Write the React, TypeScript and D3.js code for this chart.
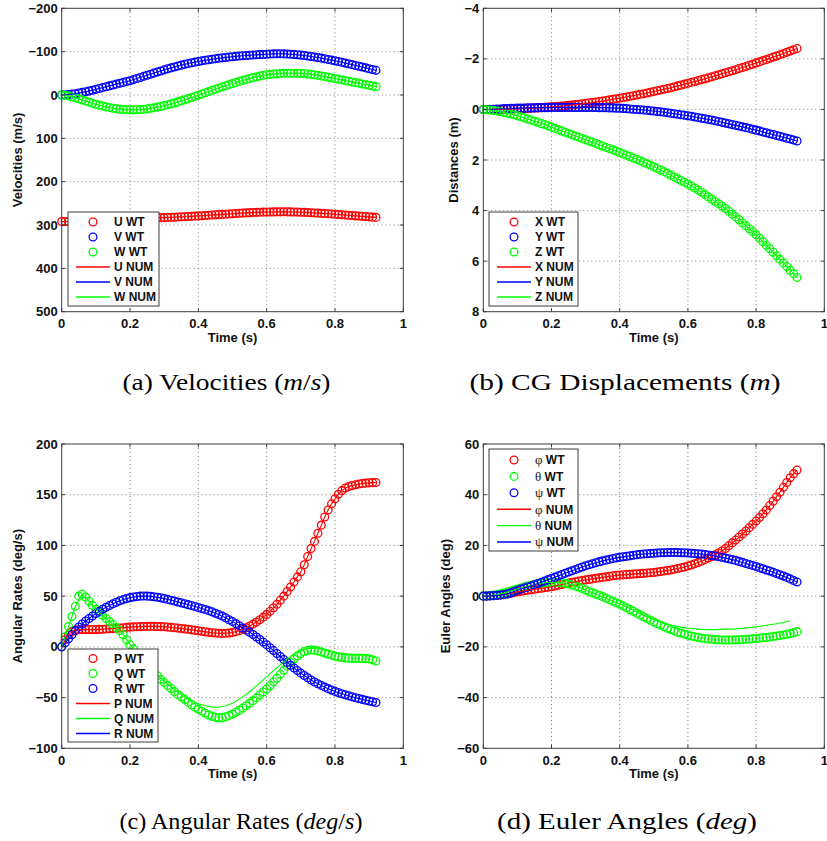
import React from 'react';
import * as d3 from 'd3';

// ---------- DATA ----------
const TIME: number[] = d3.range(93).map((i) => i / 100); // sampling instants 0 .. 0.92 s
const NUM_TIME: number[] = d3.range(46).map((i) => i / 50); // 0 .. 0.90 s

const X_TICKS = [0, 0.2, 0.4, 0.6, 0.8, 1];
const A_TICKS = [-200, -100, 0, 100, 200, 300, 400, 500];
const B_TICKS = [-4, -2, 0, 2, 4, 6, 8];
const C_TICKS = [-100, -50, 0, 50, 100, 150, 200];
const D_TICKS = [-60, -40, -20, 0, 20, 40, 60];

// (a) velocities
const U_WT = [
  292, 292, 292, 292, 291.5, 291, 291, 290.5, 290, 290,
  289.5, 289, 289, 288.5, 288, 288, 287.5, 287, 287, 286.5,
  286, 286, 285.5, 285, 285, 284.5, 284, 284, 283.5, 283,
  283, 282.5, 282, 282, 281.5, 281, 281, 280.5, 280, 279.5,
  279, 278.5, 278, 277.5, 277, 276.5, 276, 275.5, 275, 274.5,
  274, 273.5, 273, 272.5, 272, 271.5, 271, 270.8, 270.5, 270.3,
  270, 270, 269.8, 269.7, 269.6, 269.5, 269.6, 269.8, 270, 270.2,
  270.5, 270.9, 271.3, 271.7, 272.2, 272.6, 273.1, 273.6, 274.1, 274.6,
  275.2, 275.8, 276.4, 277, 277.6, 278.2, 278.8, 279.4, 280, 280.6,
  281.2, 281.8, 282.4,
];
const V_WT = [
  0, -0.3, -1, -2, -3, -4.5, -6, -7.5, -9, -11,
  -13, -15, -17, -19, -21, -23, -25, -27, -29, -31,
  -33, -35.5, -38, -40.5, -43, -45.5, -48, -50.5, -53, -55.5,
  -58, -60.3, -62.5, -64.7, -66.8, -68.8, -70.7, -72.5, -74.2, -75.8,
  -77.3, -78.7, -80, -81.3, -82.5, -83.6, -84.7, -85.7, -86.6, -87.5,
  -88.3, -89.1, -89.8, -90.5, -91.1, -91.7, -92.2, -92.7, -93.1, -93.5,
  -94, -94.5, -94.8, -95, -95, -94.8, -94.5, -94, -93.4, -92.7,
  -92, -91, -90, -88.9, -87.7, -86.4, -85, -83.5, -82, -80.4,
  -78.8, -77.1, -75.4, -73.6, -71.8, -70, -68.2, -66.3, -64.4, -62.5,
  -60.6, -58.7, -56.8,
];
const W_WT = [
  0, 1, 2.5, 4.5, 6.5, 9, 11.5, 14, 16.5, 19,
  21.5, 23.5, 25.5, 27.5, 29, 30.5, 31.7, 32.7, 33.5, 34,
  34.3, 34.3, 34.1, 33.6, 32.9, 32, 30.9, 29.6, 28.1, 26.4,
  24.6, 22.6, 20.5, 18.3, 16, 13.6, 11.1, 8.5, 5.9, 3.2,
  0.5, -2.2, -5, -7.8, -10.6, -13.4, -16.1, -18.8, -21.4, -24,
  -26.5, -29, -31.4, -33.7, -35.9, -38, -40, -41.9, -43.6, -45.2,
  -46.6, -47.6, -48.4, -49.1, -49.6, -50, -50.2, -50.3, -50.3, -50.2,
  -49.9, -49.3, -48.5, -47.5, -46.4, -45.2, -43.9, -42.5, -41, -39.5,
  -38, -36.4, -34.8, -33.2, -31.6, -30, -28.5, -27, -25.5, -24,
  -22.5, -20.8, -19.2,
];
const U_NUM = U_WT;
const V_NUM = V_WT;
const W_NUM = W_WT;

// (b) CG displacements
const X_WT = [
  0, 0, 0, 0, 0, -0.01, -0.01, -0.01, -0.02, -0.02,
  -0.03, -0.03, -0.04, -0.04, -0.05, -0.06, -0.06, -0.07, -0.08, -0.09,
  -0.1, -0.11, -0.12, -0.13, -0.14, -0.16, -0.17, -0.19, -0.2, -0.22,
  -0.24, -0.26, -0.27, -0.29, -0.31, -0.33, -0.35, -0.38, -0.4, -0.42,
  -0.44, -0.47, -0.49, -0.52, -0.54, -0.57, -0.6, -0.62, -0.65, -0.68,
  -0.71, -0.74, -0.77, -0.8, -0.83, -0.86, -0.9, -0.93, -0.96, -1,
  -1.03, -1.07, -1.1, -1.14, -1.18, -1.21, -1.25, -1.29, -1.33, -1.37,
  -1.41, -1.45, -1.49, -1.53, -1.57, -1.62, -1.66, -1.7, -1.75, -1.79,
  -1.84, -1.88, -1.93, -1.97, -2.02, -2.07, -2.11, -2.16, -2.21, -2.26,
  -2.31, -2.36, -2.41,
];
const Y_WT = [
  0, 0, -0.01, -0.01, -0.02, -0.02, -0.03, -0.03, -0.04, -0.04,
  -0.05, -0.05, -0.05, -0.06, -0.06, -0.06, -0.07, -0.07, -0.07, -0.07,
  -0.08, -0.08, -0.08, -0.08, -0.08, -0.08, -0.08, -0.08, -0.08, -0.08,
  -0.08, -0.08, -0.08, -0.08, -0.07, -0.07, -0.07, -0.06, -0.06, -0.05,
  -0.05, -0.04, -0.03, -0.02, -0.01, 0, 0.01, 0.02, 0.03, 0.05,
  0.06, 0.08, 0.09, 0.11, 0.13, 0.15, 0.17, 0.19, 0.21, 0.23,
  0.25, 0.27, 0.3, 0.32, 0.35, 0.37, 0.4, 0.42, 0.45, 0.48,
  0.51, 0.54, 0.57, 0.6, 0.63, 0.66, 0.69, 0.72, 0.75, 0.79,
  0.82, 0.85, 0.89, 0.92, 0.96, 0.99, 1.03, 1.06, 1.1, 1.14,
  1.17, 1.21, 1.25,
];
const Z_WT = [
  0, 0.01, 0.02, 0.04, 0.06, 0.09, 0.12, 0.15, 0.18, 0.21,
  0.25, 0.29, 0.33, 0.38, 0.42, 0.47, 0.51, 0.56, 0.6, 0.65,
  0.7, 0.75, 0.8, 0.85, 0.9, 0.95, 1, 1.05, 1.1, 1.15,
  1.2, 1.25, 1.3, 1.35, 1.4, 1.45, 1.5, 1.55, 1.6, 1.65,
  1.7, 1.75, 1.81, 1.86, 1.92, 1.97, 2.03, 2.09, 2.15, 2.21,
  2.27, 2.33, 2.4, 2.46, 2.53, 2.6, 2.67, 2.74, 2.81, 2.88,
  2.95, 3.03, 3.11, 3.19, 3.28, 3.37, 3.46, 3.55, 3.64, 3.73,
  3.82, 3.92, 4.03, 4.14, 4.25, 4.36, 4.48, 4.6, 4.72, 4.84,
  4.96, 5.09, 5.23, 5.37, 5.51, 5.65, 5.79, 5.93, 6.07, 6.21,
  6.36, 6.5, 6.65,
];
const X_NUM = X_WT;
const Y_NUM = Y_WT;
const Z_NUM = Z_WT;

// (c) angular rates
const P_WT = [
  0, 7, 12, 15, 16.5, 17, 17, 17, 17, 17,
  17, 17.2, 17.4, 17.6, 17.8, 18, 18.3, 18.6, 18.9, 19.2,
  19.5, 19.7, 19.9, 20, 20.1, 20.2, 20.2, 20.2, 20.1, 20,
  19.8, 19.5, 19.2, 18.9, 18.5, 18.1, 17.7, 17.3, 16.8, 16.3,
  15.8, 15.3, 14.8, 14.3, 13.9, 13.6, 13.4, 13.3, 13.4, 13.7,
  14.2, 15, 16, 17.3, 18.8, 20.5, 22.4, 24.5, 26.8, 29.3,
  32, 35, 38.5, 42, 46, 50, 54.5, 59, 64, 69,
  74, 81, 89, 97, 104, 112, 120, 128, 135, 141,
  146, 150.5, 154, 156.5, 158, 159, 159.8, 160.5, 161, 161.4,
  161.7, 161.9, 162,
];
const Q_WT = [
  0, 10, 20, 30, 40, 50, 52, 49, 45, 41,
  37, 34, 31, 28, 25, 22, 19, 16, 12, 7,
  2, -2, -6, -10, -14, -18, -21.5, -25, -28.5, -32,
  -35, -38, -41, -44, -47, -49.5, -52, -54.5, -57, -59.5,
  -61.5, -63.5, -65.5, -67.2, -68.5, -69.5, -70, -69.8, -69, -67.8,
  -66.3, -64.5, -62.5, -60.3, -58, -55.5, -53, -50.3, -47.5, -44.5,
  -41.5, -38, -34.5, -31, -27, -23, -19, -15.5, -12, -9,
  -6.5, -4.5, -3.3, -3, -3.3, -4, -5, -6, -7.2, -8.3,
  -9.3, -10, -10.6, -11, -11.2, -11.3, -11.3, -11.3, -11.4, -11.6,
  -12, -12.8, -14,
];
const R_WT = [
  0, 4, 8, 12, 16, 19.5, 22.5, 25.5, 28, 30.5,
  32.8, 35, 37, 39, 40.8, 42.5, 44, 45.4, 46.6, 47.6,
  48.5, 49.2, 49.7, 50, 50.1, 50, 49.8, 49.4, 48.9, 48.3,
  47.6, 46.8, 46, 45.2, 44.3, 43.4, 42.5, 41.6, 40.7, 39.8,
  38.8, 37.8, 36.8, 35.7, 34.5, 33.2, 31.8, 30.3, 28.6, 26.8,
  24.9, 22.9, 20.8, 18.6, 16.5, 14.5, 12.2, 9.8, 7.3, 4.7,
  2, -0.8, -3.7, -6.6, -9.5, -12.4, -15.3, -18.1, -20.8, -23.4,
  -25.9, -28.3, -30.5, -32.6, -34.6, -36.4, -38.1, -39.7, -41.2, -42.6,
  -43.9, -45.1, -46.2, -47.3, -48.3, -49.2, -50.1, -51, -51.8, -52.6,
  -53.4, -54.1, -54.8,
];
const P_NUM = P_WT;
const Q_NUM = [
  0, 20, 40, 52, 45, 37, 31, 25, 19, 12,
  2, -6, -14, -21, -28, -34, -39.5, -44.5, -49, -53,
  -56, -58, -59.2, -59.5, -58, -55.5, -51.5, -47, -41.5, -35.5,
  -29.5, -23.5, -17.5, -12, -7, -3.5, -1.5, -1.3, -2.3, -3.8,
  -5.2, -6.3, -7, -7.3, -7.4, -7.6,
];
const R_NUM = R_WT;

// (d) Euler angles
const PHI_WT = [
  0, 0, 0.1, 0.2, 0.3, 0.5, 0.7, 0.9, 1.1, 1.4,
  1.7, 1.9, 2.1, 2.3, 2.5, 2.7, 2.9, 3.1, 3.3, 3.5,
  3.7, 4, 4.3, 4.6, 4.9, 5.2, 5.5, 5.7, 6, 6.2,
  6.4, 6.6, 6.8, 7, 7.2, 7.4, 7.6, 7.8, 8, 8.2,
  8.3, 8.4, 8.5, 8.6, 8.7, 8.8, 8.9, 9, 9.1, 9.2,
  9.3, 9.5, 9.7, 9.9, 10.1, 10.3, 10.6, 10.9, 11.2, 11.5,
  11.9, 12.3, 12.8, 13.3, 13.8, 14.4, 15, 15.6, 16.3, 17,
  17.8, 18.8, 19.9, 21, 22.1, 23.3, 24.5, 25.7, 27, 28.3,
  29.6, 31, 32.5, 34, 35.7, 37.4, 39.2, 41, 42.9, 44.8,
  46.7, 48.3, 49.7,
];
const THETA_WT = [
  0, 0.1, 0.2, 0.4, 0.6, 0.9, 1.2, 1.6, 2, 2.4,
  2.8, 3.2, 3.6, 4, 4.3, 4.6, 4.9, 5.1, 5.3, 5.4,
  5.5, 5.5, 5.4, 5.3, 5.1, 4.8, 4.4, 4, 3.5, 3,
  2.4, 1.8, 1.3, 0.8, 0.3, -0.2, -0.8, -1.4, -2, -2.6,
  -3.2, -3.9, -4.6, -5.3, -6, -6.7, -7.4, -8.1, -8.8, -9.5,
  -10.2, -10.9, -11.5, -12.1, -12.7, -13.2, -13.7, -14.2, -14.6, -15,
  -15.4, -15.7, -16, -16.3, -16.5, -16.7, -16.9, -17, -17.1, -17.2,
  -17.3, -17.3, -17.3, -17.3, -17.2, -17.2, -17.1, -17, -16.9, -16.8,
  -16.7, -16.6, -16.4, -16.3, -16.1, -15.9, -15.7, -15.5, -15.3, -15,
  -14.7, -14.4, -14,
];
const PSI_WT = [
  0, 0, 0.1, 0.2, 0.3, 0.4, 0.6, 0.9, 1.3, 1.8,
  2.3, 2.8, 3.2, 3.6, 4, 4.5, 5, 5.5, 6, 6.5,
  7, 7.5, 8, 8.5, 9, 9.5, 10, 10.5, 11, 11.5,
  12, 12.4, 12.8, 13.2, 13.6, 13.9, 14.2, 14.5, 14.8, 15.1,
  15.3, 15.5, 15.7, 15.9, 16.1, 16.3, 16.5, 16.6, 16.7, 16.8,
  16.9, 17, 17.1, 17.1, 17.2, 17.2, 17.2, 17.2, 17.1, 17.1,
  17, 16.9, 16.8, 16.7, 16.6, 16.4, 16.2, 16, 15.8, 15.6,
  15.3, 15, 14.7, 14.4, 14.1, 13.7, 13.3, 12.9, 12.5, 12.1,
  11.7, 11.2, 10.8, 10.3, 9.9, 9.4, 8.9, 8.4, 7.9, 7.4,
  6.8, 6.2, 5.6,
];
const PHI_NUM = PHI_WT;
const THETA_NUM = [
  0, 0.2, 0.6, 1.2, 2, 2.8, 3.6, 4.3, 4.9, 5.3,
  5.5, 5.4, 5.1, 4.4, 3.5, 2.4, 1.3, 0.3, -0.8, -2,
  -3, -4.3, -5.6, -6.9, -8.1, -9.2, -10.2, -11, -11.7, -12.2,
  -12.6, -12.9, -13.1, -13.2, -13.2, -13.1, -13, -12.9, -12.7, -12.4,
  -12.1, -11.7, -11.3, -10.9, -10.4, -9.7,
];
const PSI_NUM = PSI_WT;

// ---------- STYLE / LAYOUT ----------
const SANS = "'Liberation Sans', Arial, Helvetica, sans-serif";
const SERIF = "'Liberation Serif', 'Times New Roman', serif";
const RED = '#ff0000';
const GREEN = '#00ff00';
const BLUE = '#0000ff';

type Series = {
  sym: string;
  greek?: boolean;
  color: string;
  wt: number[];
  num: number[];
  numT: number[];
};

type PanelCfg = {
  left: number;
  right: number;
  top: number;
  bottom: number;
  domain: [number, number];
  reversed: boolean;
  yTicks: number[];
  ylabel: string;
  ylabelX: number;
  legend: { x: number; y: number; w: number; h: number; first: number; step: number };
  series: Series[];
};

const PANELS: PanelCfg[] = [
  {
    left: 61.7, right: 403.3, top: 8.3, bottom: 311.7,
    domain: [-200, 500], reversed: true, yTicks: A_TICKS,
    ylabel: 'Velocities (m/s)', ylabelX: 22,
    legend: { x: 68, y: 212, w: 91, h: 94, first: 10, step: 15 },
    series: [
      { sym: 'U', color: RED, wt: U_WT, num: U_NUM, numT: TIME },
      { sym: 'V', color: BLUE, wt: V_WT, num: V_NUM, numT: TIME },
      { sym: 'W', color: GREEN, wt: W_WT, num: W_NUM, numT: TIME },
    ],
  },
  {
    left: 483.3, right: 824.3, top: 8.3, bottom: 311.7,
    domain: [-4, 8], reversed: true, yTicks: B_TICKS,
    ylabel: 'Distances (m)', ylabelX: 458,
    legend: { x: 489, y: 212, w: 89, h: 94, first: 10, step: 15 },
    series: [
      { sym: 'X', color: RED, wt: X_WT, num: X_NUM, numT: TIME },
      { sym: 'Y', color: BLUE, wt: Y_WT, num: Y_NUM, numT: TIME },
      { sym: 'Z', color: GREEN, wt: Z_WT, num: Z_NUM, numT: TIME },
    ],
  },
  {
    left: 61.7, right: 403.3, top: 444, bottom: 748.3,
    domain: [-100, 200], reversed: false, yTicks: C_TICKS,
    ylabel: 'Angular Rates (deg/s)', ylabelX: 22,
    legend: { x: 68, y: 649, w: 90, h: 93, first: 9.5, step: 15 },
    series: [
      { sym: 'P', color: RED, wt: P_WT, num: P_NUM, numT: TIME },
      { sym: 'Q', color: GREEN, wt: Q_WT, num: Q_NUM, numT: NUM_TIME },
      { sym: 'R', color: BLUE, wt: R_WT, num: R_NUM, numT: TIME },
    ],
  },
  {
    left: 483.3, right: 824.3, top: 444, bottom: 748.3,
    domain: [-60, 60], reversed: false, yTicks: D_TICKS,
    ylabel: 'Euler Angles (deg)', ylabelX: 450,
    legend: { x: 489, y: 449, w: 89, h: 102, first: 11, step: 16.4 },
    series: [
      { sym: 'φ', greek: true, color: RED, wt: PHI_WT, num: PHI_NUM, numT: TIME },
      { sym: 'θ', greek: true, color: GREEN, wt: THETA_WT, num: THETA_NUM, numT: NUM_TIME },
      { sym: 'ψ', greek: true, color: BLUE, wt: PSI_WT, num: PSI_NUM, numT: TIME },
    ],
  },
];

const MARKER_R = 3.9;
const MARKER_SW = 1.3;
const AXIS_COLOR = '#3c3c3c';
const GRID_COLOR = '#6e6e6e';
const fmtY = d3.format('d');
const fmtX = (v: number) => String(+v.toFixed(1));

function Legend({ p }: { p: PanelCfg }) {
  const L = p.legend;
  const rows: { s: Series; kind: 'WT' | 'NUM' }[] = [
    ...p.series.map((s) => ({ s, kind: 'WT' as const })),
    ...p.series.map((s) => ({ s, kind: 'NUM' as const })),
  ];
  return (
    <g>
      <rect x={L.x} y={L.y} width={L.w} height={L.h} fill="#fff" stroke={AXIS_COLOR} strokeWidth={1} />
      {rows.map((r, i) => {
        const cy = L.y + L.first + i * L.step;
        return (
          <g key={i}>
            {r.kind === 'WT' ? (
              <circle cx={L.x + 25} cy={cy} r={MARKER_R} fill="none" stroke={r.s.color} strokeWidth={MARKER_SW} />
            ) : (
              <line x1={L.x + 8} x2={L.x + 42} y1={cy} y2={cy} stroke={r.s.color} strokeWidth={1.4} />
            )}
            <text x={L.x + 46} y={cy + 4.3} fontFamily={SANS} fontWeight="bold" fontSize={12} fill="#111">
              {r.s.greek ? (
                <>
                  <tspan fontFamily={SERIF} fontWeight="normal" fontSize={13}>{r.s.sym}</tspan>
                  <tspan>{' ' + r.kind}</tspan>
                </>
              ) : (
                r.s.sym + ' ' + r.kind
              )}
            </text>
          </g>
        );
      })}
    </g>
  );
}

function Panel({ p }: { p: PanelCfg }) {
  const x = d3.scaleLinear().domain([0, 1]).range([p.left, p.right]);
  const y = d3
    .scaleLinear()
    .domain(p.domain)
    .range(p.reversed ? [p.top, p.bottom] : [p.bottom, p.top]);
  const tl = 3.4;
  const pathOf = (ts: number[], vs: number[]) =>
    d3
      .line<number>()
      .x((_, i) => x(ts[i]))
      .y((v) => y(v))(vs) || '';
  const innerY = p.yTicks.filter((v) => v !== p.domain[0] && v !== p.domain[1]);
  const innerX = X_TICKS.filter((t) => t > 0 && t < 1);
  const midY = (p.top + p.bottom) / 2;
  return (
    <g>
      {innerX.map((t) => (
        <line key={'gx' + t} x1={x(t)} x2={x(t)} y1={p.top} y2={p.bottom} stroke={GRID_COLOR} strokeWidth={0.9} strokeDasharray="1,3" />
      ))}
      {innerY.map((v) => (
        <line key={'gy' + v} x1={p.left} x2={p.right} y1={y(v)} y2={y(v)} stroke={GRID_COLOR} strokeWidth={0.9} strokeDasharray="1,3" />
      ))}
      {p.series.map((s) => (
        <g key={'m' + s.sym}>
          {TIME.map((t, i) => (
            <circle key={i} cx={x(t)} cy={y(s.wt[i])} r={MARKER_R} fill="none" stroke={s.color} strokeWidth={MARKER_SW} />
          ))}
        </g>
      ))}
      {p.series.map((s) => (
        <path key={'l' + s.sym} d={pathOf(s.numT, s.num)} fill="none" stroke={s.color} strokeWidth={1.1} />
      ))}
      <rect x={p.left} y={p.top} width={p.right - p.left} height={p.bottom - p.top} fill="none" stroke={AXIS_COLOR} strokeWidth={1} />
      {X_TICKS.map((t) => (
        <g key={'tx' + t}>
          <line x1={x(t)} x2={x(t)} y1={p.bottom} y2={p.bottom - tl} stroke={AXIS_COLOR} />
          <line x1={x(t)} x2={x(t)} y1={p.top} y2={p.top + tl} stroke={AXIS_COLOR} />
          <text x={x(t)} y={p.bottom + 16.5} textAnchor="middle" fontFamily={SANS} fontWeight="bold" fontSize={13} fill="#111">
            {fmtX(t)}
          </text>
        </g>
      ))}
      {p.yTicks.map((v) => (
        <g key={'ty' + v}>
          <line x1={p.left} x2={p.left + tl} y1={y(v)} y2={y(v)} stroke={AXIS_COLOR} />
          <line x1={p.right} x2={p.right - tl} y1={y(v)} y2={y(v)} stroke={AXIS_COLOR} />
          <text x={p.left - 4} y={y(v) + 4.6} textAnchor="end" fontFamily={SANS} fontWeight="bold" fontSize={13} fill="#111">
            {fmtY(v)}
          </text>
        </g>
      ))}
      <text x={(p.left + p.right) / 2} y={p.bottom + 30} textAnchor="middle" fontFamily={SANS} fontWeight="bold" fontSize={13} fill="#111">
        Time (s)
      </text>
      <text
        transform={`translate(${p.ylabelX},${midY}) rotate(-90)`}
        textAnchor="middle"
        fontFamily={SANS}
        fontWeight="bold"
        fontSize={13}
        fill="#111"
      >
        {p.ylabel}
      </text>
      <Legend p={p} />
    </g>
  );
}

const CAPTION_FONT = 24;

export default function App() {
  return (
    <svg
      width={827}
      height={841}
      viewBox="0 0 827 841"
      style={{ position: 'absolute', left: 0, top: 0, background: '#fff' }}
    >
      {PANELS.map((p, i) => (
        <Panel key={i} p={p} />
      ))}
      <g fontFamily={SERIF} fontSize={CAPTION_FONT} fill="#000">
        <text x={226.5} y={390} textAnchor="middle" textLength={208} lengthAdjust="spacingAndGlyphs">
          (a) Velocities (<tspan fontStyle="italic">m</tspan>/<tspan fontStyle="italic">s</tspan>)
        </text>
        <text x={625} y={390} textAnchor="middle" textLength={311} lengthAdjust="spacingAndGlyphs">
          (b) CG Displacements (<tspan fontStyle="italic">m</tspan>)
        </text>
        <text x={241} y={829} textAnchor="middle" textLength={243} lengthAdjust="spacingAndGlyphs">
          (c) Angular Rates (<tspan fontStyle="italic">deg</tspan>/<tspan fontStyle="italic">s</tspan>)
        </text>
        <text x={627} y={829} textAnchor="middle" textLength={260} lengthAdjust="spacingAndGlyphs">
          (d) Euler Angles (<tspan fontStyle="italic">deg</tspan>)
        </text>
      </g>
    </svg>
  );
}
